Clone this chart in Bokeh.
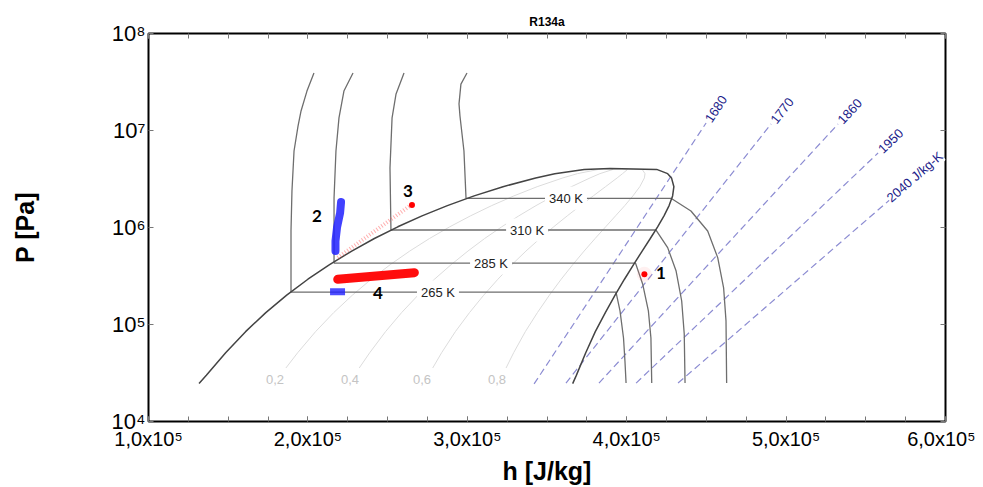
from math import radians
from bokeh.plotting import figure
from bokeh.models import Range1d, LinearAxis, LogAxis, FixedTicker, Label
from bokeh.embed import file_html
from bokeh.resources import INLINE

# ---------------- texts / ticks ----------------
title_text = "R134a"
x_label = "h [J/kg]"
y_label = "P [Pa]"
x_ticks = [1e5, 2e5, 3e5, 4e5, 5e5, 6e5]
x_tick_labels = ["1,0x10⁵", "2,0x10⁵", "3,0x10⁵", "4,0x10⁵", "5,0x10⁵", "6,0x10⁵"]
x_minor = [1e5 + 0.25e5 * i for i in range(21)]
y_ticks = [1e4, 1e5, 1e6, 1e7, 1e8]
y_tick_labels = ["10⁴", "10⁵", "10⁶", "10⁷", "10⁸"]

# ---------------- saturation dome (h in kJ/kg, P in Pa) ----------------
sat_P = [24.6e3, 29.9e3, 51.2e3, 84.4e3, 132.7e3, 200.6e3, 292.8e3, 414.6e3, 571.7e3,
         770.2e3, 1016.6e3, 1317.9e3, 1681.8e3, 2116.8e3, 2633.2e3, 3244.2e3, 3591e3,
         3972e3, 4059e3]
sat_hl = [131.7, 136.3, 148.4, 160.9, 173.6, 186.7, 200.0, 213.6, 227.5, 241.7, 256.4,
          271.6, 287.5, 304.3, 322.4, 342.9, 354.9, 373.3, 389.6]
sat_hv = [366.1, 368.4, 374.3, 380.3, 386.6, 392.7, 398.6, 404.3, 409.7, 414.8, 419.4,
          423.4, 426.6, 428.8, 429.6, 428.1, 425.7, 418.8, 389.6]

# ---------------- quality lines ----------------
q_P = [35.6e3, 51.2e3, 84.4e3, 132.7e3, 200.6e3, 292.8e3, 414.6e3, 571.7e3, 770.2e3,
       1016.6e3, 1317.9e3, 1681.8e3, 2116.8e3, 2633.2e3, 3244.2e3, 3591e3, 3972e3, 4059e3]
q02_h = [186.2, 193.6, 204.8, 216.2, 227.9, 239.7, 251.7, 263.9, 276.3, 289.0, 302.0,
         315.3, 329.2, 343.8, 359.9, 369.1, 382.4, 389.6]
q04_h = [232.2, 238.8, 248.7, 258.8, 269.1, 279.4, 289.9, 300.4, 310.9, 321.6, 332.3,
         343.1, 354.1, 365.3, 377.0, 383.2, 391.5, 389.6]
q06_h = [278.3, 283.9, 292.5, 301.4, 310.3, 319.2, 328.0, 336.8, 345.6, 354.2, 362.7,
         371.0, 379.0, 386.7, 394.0, 397.4, 400.6, 389.6]
q08_h = [324.3, 329.1, 336.4, 344.0, 351.5, 358.9, 366.2, 373.3, 380.2, 386.8, 393.0,
         398.8, 403.9, 408.2, 411.1, 411.5, 409.7, 389.6]
q_labels = ["0,2", "0,4", "0,6", "0,8"]
q_label_h = [179.4, 226.4, 271.6, 318.6]
q_label_P = 27.4e3

# ---------------- isotherms ----------------
T265_h = [203.8, 199.4, 195.7, 193.8, 191.3, 190.0, 189.4, 189.4, 393.3, 395.8, 398.0, 398.9, 399.6]
T265_P = [39.2e6, 25.5e6, 15.9e6, 11.1e6, 6.15e6, 2.38e6, 920e3, 216e3, 216e3, 138e3, 72.6e3, 42.1e3, 24.9e3]
T285_h = [228.3, 222.6, 219.5, 217.6, 216.4, 216.4, 405.5, 410.0, 413.6, 415.2, 415.7]
T285_P = [39.2e6, 25.5e6, 13.5e6, 6.15e6, 2.01e6, 430e3, 430e3, 262e3, 138e3, 72.6e3, 24.9e3]
T310_h = [260.3, 255.3, 252.8, 251.5, 252.1, 418.4, 425.7, 431.0, 434.5, 436.1, 436.6]
T310_P = [39.2e6, 23.8e6, 13.5e6, 4.10e6, 942e3, 942e3, 620e3, 356e3, 174.7e3, 79.8e3, 24.9e3]
T340_h = [299.8, 296.0, 294.8, 295.4, 297.9, 299.2, 427.8, 440.3, 450.8, 457.1, 460.8, 462.3, 462.7]
T340_P = [39.2e6, 30.1e6, 18.8e6, 14.1e6, 6.15e6, 2.0e6, 2.0e6, 1.48e6, 920e3, 489e3, 239e3, 109e3, 24.9e3]
T_labels = ["265 K", "285 K", "310 K", "340 K"]
T_label_h = [281.6, 314.9, 337.5, 361.9]
T_label_P = [216e3, 430e3, 942e3, 2.0e6]

# ---------------- isentropes ----------------
s_labels = ["1680", "1770", "1860", "1950", "2040 J/kg-K"]
s_h = [[341.9, 449.8], [361.9, 490.6], [382.6, 532.6], [405.9, 557.7], [432.2, 585.9]]
s_P = [[24.4e3, 1.195e7], [24.9e3, 1.167e7], [24.9e3, 1.167e7], [24.9e3, 5.86e6], [24.9e3, 3.82e6]]
s_label_h = [449.8, 490.6, 532.6, 557.7, 563.0]
s_label_P = [1.195e7, 1.167e7, 1.167e7, 5.86e6, 1.85e6]
s_label_angle = [56.6, 51.6, 47.3, 43.5, 40.9]

# ---------------- cycle states ----------------
st1_h, st1_P = 411.1, 3.29e5
st3_h, st3_P = 265.3, 1.706e6
st2_h = [220.8, 220.2, 218.3, 217.3, 217.3]
st2_P = [1.83e6, 1.41e6, 1.01e6, 7.26e5, 5.73e5]
st23_h = [218.7, 264.7]
st23_P = [4.89e5, 1.706e6]
st4r_h = [218.7, 266.8]
st4r_P = [2.92e5, 3.42e5]
st4b_h = [213.9, 223.3]
st4b_P = [2.18e5, 2.18e5]
num_labels = ["1", "2", "3", "4"]
num_h = [421.5, 205.7, 262.8, 244.0]
num_P = [3.38e5, 1.31e6, 2.38e6, 2.11e5]

def J(lst):
    return [v * 1e3 for v in lst]

FONT = "Liberation Sans"

p = figure(frame_width=797, frame_height=388,
           x_range=Range1d(1e5, 6e5), y_range=Range1d(1e4, 1e8), y_axis_type="log",
           output_backend="svg", toolbar_location=None,
           min_border_left=148, min_border_right=30, min_border_top=33, min_border_bottom=40)
p.background_fill_color = "white"
p.border_fill_color = "white"
p.grid.visible = False
p.outline_line_color = "black"
p.outline_line_width = 2

p.title.text = title_text
p.title.align = "center"
p.title.text_font = FONT
p.title.text_font_size = "12px"
p.title.text_font_style = "bold"
p.title.text_color = "black"

xa = p.xaxis[0]
xa.ticker = FixedTicker(ticks=x_ticks, minor_ticks=x_minor)
xa.major_label_overrides = dict(zip(x_ticks, x_tick_labels))
xa.major_label_text_font = FONT
xa.major_label_text_font_size = "20px"
xa.major_label_text_color = "black"
xa.major_label_standoff = 6
xa.axis_label = x_label
xa.axis_label_text_font = FONT
xa.axis_label_text_font_size = "25px"
xa.axis_label_text_font_style = "bold"
xa.axis_label_text_color = "black"
xa.axis_label_standoff = 4

ya = p.yaxis[0]
ya.ticker = FixedTicker(ticks=y_ticks, minor_ticks=[])
ya.major_label_overrides = dict(zip(y_ticks, y_tick_labels))
ya.major_label_text_font = FONT
ya.major_label_text_font_size = "22px"
ya.major_label_text_color = "black"
ya.major_label_standoff = 3
ya.axis_label = y_label
ya.axis_label_text_font = FONT
ya.axis_label_text_font_size = "25px"
ya.axis_label_text_font_style = "bold"
ya.axis_label_text_color = "black"
ya.axis_label_standoff = 70

top = LinearAxis(ticker=FixedTicker(ticks=x_ticks, minor_ticks=x_minor),
                 major_label_text_font_size="6px", major_label_text_color=None,
                 major_label_standoff=0)
right = LogAxis(ticker=FixedTicker(ticks=y_ticks, minor_ticks=[]),
                major_label_text_font_size="6px", major_label_text_color=None,
                major_label_standoff=0)
p.add_layout(top, "above")
p.add_layout(right, "right")

for ax in [xa, ya, top, right]:
    ax.axis_line_color = None
    ax.major_tick_in = 5
    ax.major_tick_out = 0
    ax.minor_tick_in = 5
    ax.minor_tick_out = 0
    ax.major_tick_line_color = "#777777"
    ax.minor_tick_line_color = "#777777"

# quality lines
for hq in [q02_h, q04_h, q06_h, q08_h]:
    p.line(J(hq), q_P, line_color="#dcdcdc", line_width=1)
for t, h in zip(q_labels, q_label_h):
    p.add_layout(Label(x=h * 1e3, y=q_label_P, text=t, text_font=FONT, text_font_size="13px",
                       text_color="#c4c4c4", text_align="center", text_baseline="middle"))

# isentropes
for hs, ps in zip(s_h, s_P):
    p.line(J(hs), ps, line_color="#8c8cd2", line_width=1.2, line_dash="7 4")

# isotherms
for hT, pT in [(T265_h, T265_P), (T285_h, T285_P), (T310_h, T310_P), (T340_h, T340_P)]:
    p.line(J(hT), pT, line_color="#6e6e6e", line_width=1.3)

# saturation dome
dome_h = sat_hl + sat_hv[::-1][1:]
dome_P = sat_P + sat_P[::-1][1:]
p.line(J(dome_h), dome_P, line_color="#444444", line_width=1.5)

for t, h, pr in zip(T_labels, T_label_h, T_label_P):
    p.add_layout(Label(x=h * 1e3, y=pr, text=t, text_font=FONT, text_font_size="13px",
                       text_color="#222222", text_align="center", text_baseline="middle",
                       background_fill_color="white", padding=4))

for t, h, pr, a in zip(s_labels, s_label_h, s_label_P, s_label_angle):
    p.add_layout(Label(x=h * 1e3, y=pr, text=t, text_font=FONT, text_font_size="13px",
                       text_color="#1c1c8a", text_align="left", text_baseline="middle",
                       angle=radians(a), x_offset=2, y_offset=2,
                       background_fill_color="white"))

# cycle
p.line(J(st23_h), st23_P, line_color="#ff5a5a", line_alpha=0.5, line_width=4, line_dash="1 2")
p.line(J(st2_h), st2_P, line_color="#2020ff", line_alpha=0.85, line_width=8, line_cap="round")
p.line(J(st4r_h), st4r_P, line_color="#ff0000", line_alpha=0.95, line_width=9, line_cap="round")
p.line(J(st4b_h), st4b_P, line_color="#2020ff", line_alpha=0.8, line_width=7)
p.scatter([st1_h * 1e3], [st1_P], size=15, fill_color="#ff8080", fill_alpha=0.12, line_color=None)
p.scatter([st1_h * 1e3, st3_h * 1e3], [st1_P, st3_P], size=6, fill_color="red", line_color=None)
for t, h, pr in zip(num_labels, num_h, num_P):
    p.add_layout(Label(x=h * 1e3, y=pr, text=t, text_font="Lato", text_font_size="17px",
                       text_font_style="bold", text_color="black",
                       text_align="center", text_baseline="middle"))

open("out.html", "w").write(file_html(p, INLINE))
